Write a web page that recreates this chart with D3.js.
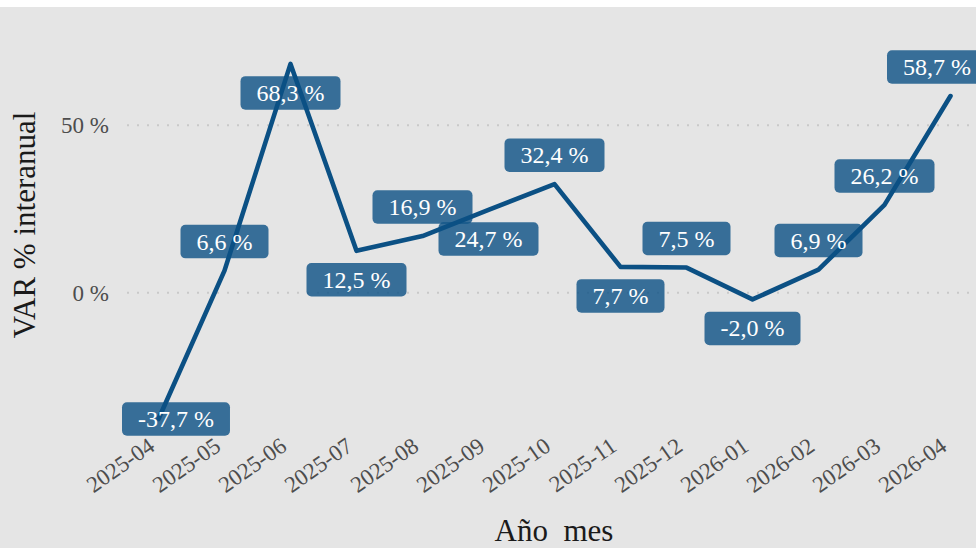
<!DOCTYPE html>
<html>
<head>
<meta charset="utf-8">
<script src="https://cdn.jsdelivr.net/npm/d3@7"></script>
<style>
  html, body { margin: 0; padding: 0; background: #ffffff; }
  svg { display: block; }
  svg text { font-family: "Liberation Serif", "Times New Roman", serif !important; }
</style>
</head>
<body>
<div id="chart"></div>
<script>
// datos
var months = ["2025-04", "2025-05", "2025-06", "2025-07", "2025-08", "2025-09", "2025-10",
              "2025-11", "2025-12", "2026-01", "2026-02", "2026-03", "2026-04"];
var values = [-37.7, 6.6, 68.3, 12.5, 16.9, 24.7, 32.4, 7.7, 7.5, -2.0, 6.9, 26.2, 58.7];
var yTicks = [0, 50];
// -1 etiqueta arriba, 1 abajo, 0 sobre el punto
var labelSide = [0, -1, 1, 1, -1, 1, -1, 1, -1, 1, -1, -1, -1];

var width = 976, height = 548;
var panel = {left: 119, right: 990, top: 7, bottom: 443};
var lineColor = "#0b5084";
var bg = "#e5e5e5";

var locale = d3.formatLocale({decimal: ",", thousands: ".", grouping: [3], currency: ["", ""], minus: "-"});
var fmt = locale.format(".1f");

var svg = d3.select("#chart").append("svg")
  .attr("width", width).attr("height", height);

svg.append("rect").attr("x", 0).attr("y", 7)
  .attr("width", width).attr("height", height - 7).attr("fill", bg);

var x = d3.scalePoint().domain(months).range([158.5, 950.5]);
// 0 % en y=292.7, 3.35 px por punto
var y = d3.scaleLinear().domain([-50, 80]).range([292.7 + 50 * 3.35, 292.7 - 80 * 3.35]);

// lineas de grilla
svg.append("g").selectAll("line").data(yTicks).enter().append("line")
  .attr("x1", panel.left).attr("x2", width)
  .attr("y1", function(d){ return y(d); }).attr("y2", function(d){ return y(d); })
  .attr("stroke", "#c9c9c9").attr("stroke-width", 2)
  .attr("stroke-dasharray", "2,8").attr("stroke-dashoffset", -8);

// eje y
var yAxis = svg.append("g").attr("transform", "translate(" + panel.left + ",0)")
  .call(d3.axisLeft(y).tickValues(yTicks).tickSize(0).tickPadding(10)
    .tickFormat(function(d){ return d + " %"; }));
yAxis.select(".domain").remove();
yAxis.attr("font-family", null).attr("font-size", null);
yAxis.selectAll("text").style("font-size", "23px").attr("fill", "#4d4d4d");

// eje x
var xAxis = svg.append("g").attr("transform", "translate(0," + panel.bottom + ")")
  .call(d3.axisBottom(x).tickSize(0));
xAxis.select(".domain").remove();
xAxis.attr("font-family", null).attr("font-size", null);
xAxis.selectAll("text")
  .style("font-size", "23px").attr("fill", "#4d4d4d")
  .attr("text-anchor", "end").attr("x", 0).attr("y", 0).attr("dy", 0)
  .attr("transform", "translate(-2.8,6.4) rotate(-35)");

// linea
var line = d3.line()
  .x(function(d, i){ return x(months[i]); })
  .y(function(d){ return y(d); });

svg.append("path").datum(values)
  .attr("d", line)
  .attr("fill", "none")
  .attr("stroke", lineColor)
  .attr("stroke-width", 4.6)
  .attr("stroke-linejoin", "round")
  .attr("stroke-linecap", "round");

// etiquetas
var labels = svg.append("g").selectAll("g").data(values).enter().append("g");

labels.each(function(d, i){
  var g = d3.select(this);
  var txt = g.append("text")
    .text(fmt(d) + " %")
    .style("font-size", "24px").attr("fill", "#ffffff")
    .attr("text-anchor", "middle");
  var w = txt.node().getComputedTextLength() + 32, h = 33.5;
  var cx = x(months[i]), cy = y(d) + labelSide[i] * 29;
  cx = Math.max(panel.left + 3 + w / 2, Math.min(panel.right - 3 - w / 2, cx));
  cy = Math.min(panel.bottom - 4 - h / 2, cy);
  g.insert("rect", "text")
    .attr("x", cx - w / 2).attr("y", cy - h / 2)
    .attr("width", w).attr("height", h)
    .attr("rx", 5).attr("ry", 5)
    .attr("fill", lineColor).attr("fill-opacity", 0.8);
  txt.attr("x", cx).attr("y", cy + 8);
});

// titulos
svg.append("text")
  .attr("transform", "translate(35,225) rotate(-90)")
  .attr("text-anchor", "middle")
  .style("font-size", "31px").attr("fill", "#1a1a1a")
  .text("VAR % interanual");

svg.append("text")
  .attr("x", 554).attr("y", 541)
  .attr("text-anchor", "middle")
  .style("font-size", "31px").attr("fill", "#1a1a1a")
  .style("white-space", "pre")
  .text("Año  mes");
</script>
</body>
</html>
